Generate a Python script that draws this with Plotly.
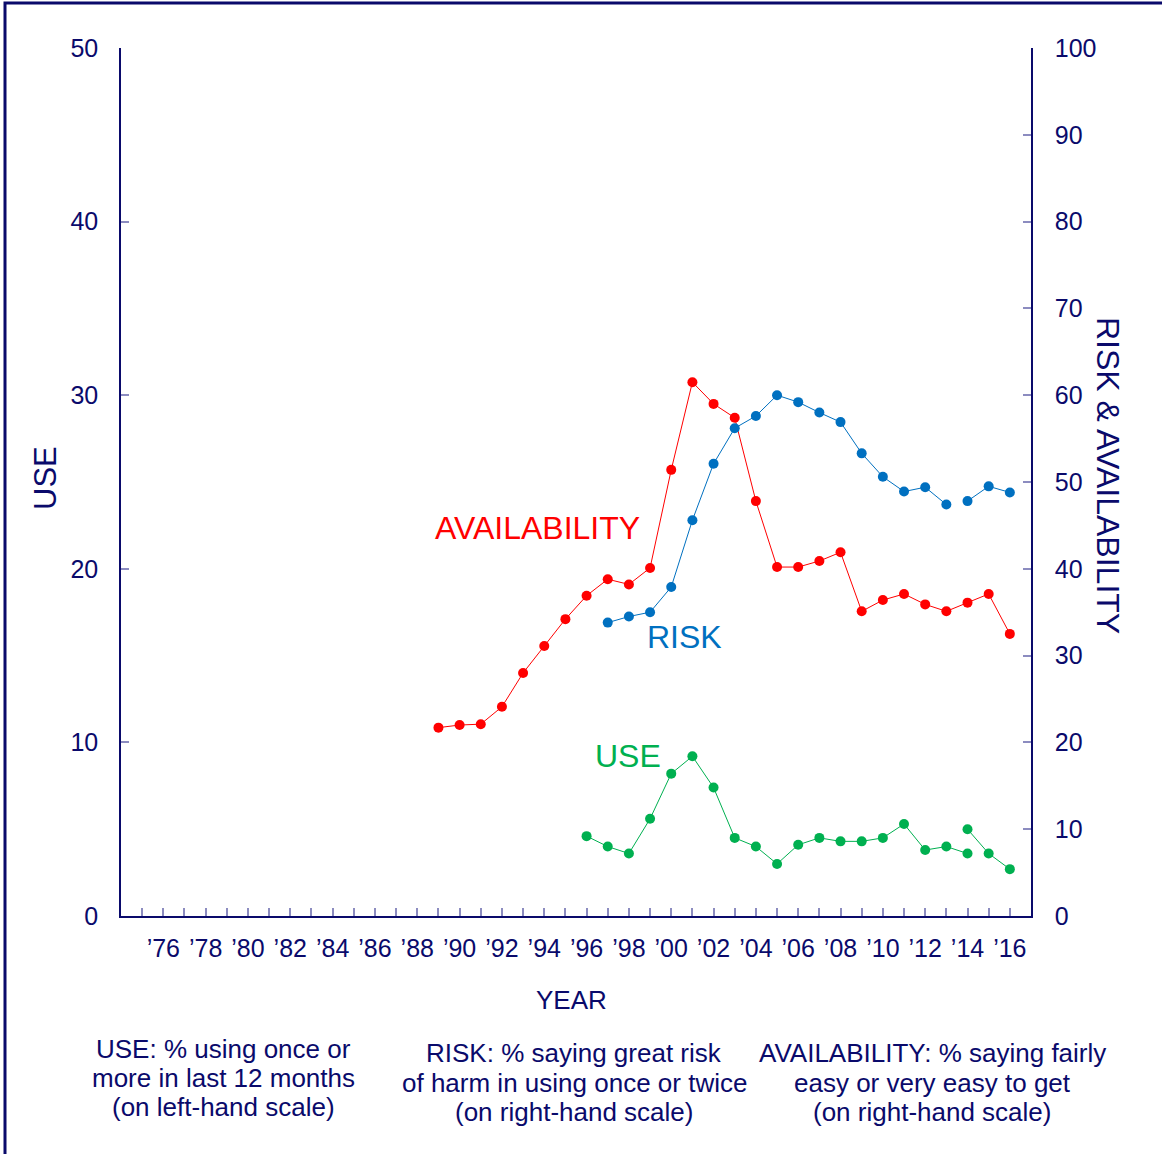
import plotly.graph_objects as go

NAVY = "#0a0a6b"

years_avail = list(range(1989, 2017))
availability = [21.7, 22.0, 22.1, 24.1, 28.0, 31.1, 34.2, 36.9, 38.8, 38.2, 40.1,
                51.4, 61.5, 59.0, 57.4, 47.8, 40.2, 40.2, 40.9, 41.9, 35.1,
                36.4, 37.1, 35.9, 35.1, 36.1, 37.1, 32.5]

years_risk_a = list(range(1997, 2014))
risk_a = [33.8, 34.5, 35.0, 37.9, 45.6, 52.1, 56.2, 57.6, 60.0, 59.2, 58.0,
          56.9, 53.3, 50.6, 48.9, 49.4, 47.4]
years_risk_b = [2014, 2015, 2016]
risk_b = [47.8, 49.5, 48.8]

years_use_a = list(range(1996, 2015))
use_a = [4.6, 4.0, 3.6, 5.6, 8.2, 9.2, 7.4, 4.5, 4.0, 3.0, 4.1, 4.5, 4.3, 4.3,
         4.5, 5.3, 3.8, 4.0, 3.6]
years_use_b = [2014, 2015, 2016]
use_b = [5.0, 3.6, 2.7]

tick_years = list(range(1975, 2017))
tick_text = [("\u2019%02d" % (y % 100)) if y % 2 == 0 else "" for y in tick_years]

RED = "#ff0000"
BLUE = "#0070c0"
GREEN = "#00b050"

fig = go.Figure()

def add(x, y, color, axis):
    fig.add_trace(go.Scatter(
        x=x, y=y, mode="lines+markers", yaxis=axis,
        line=dict(color=color, width=1),
        marker=dict(color=color, size=10),
        showlegend=False, hoverinfo="x+y"))

add(years_avail, availability, RED, "y2")
add(years_risk_a, risk_a, BLUE, "y2")
add(years_risk_b, risk_b, BLUE, "y2")
add(years_use_a, use_a, GREEN, "y")
add(years_use_b, use_b, GREEN, "y")

W, H = 1162, 1154
L, R, T, B = 121, 1031, 48, 916

def px(xp):
    return (xp - L) / (R - L)

def py(yp):
    return (B - yp) / (B - T)

font = "Liberation Sans, Arial, sans-serif"

axis_common = dict(
    ticks="inside", ticklen=8, tickcolor="#8c8cc0", tickwidth=1.5,
    showline=True, linecolor=NAVY, linewidth=1.5, showgrid=False, zeroline=False,
    tickfont=dict(size=25, color=NAVY),
)

fig.update_layout(
    width=W, height=H,
    margin=dict(l=L, r=W - R, t=T, b=H - B),
    paper_bgcolor="white", plot_bgcolor="white",
    font=dict(family=font, color=NAVY, size=24),
    xaxis=dict(range=[1974, 2017], tickmode="array", tickvals=tick_years, ticktext=tick_text,
               ticklabelstandoff=9, **axis_common),
    yaxis=dict(range=[0, 50], tickvals=[0, 10, 20, 30, 40, 50], ticklabelstandoff=16, **axis_common),
    yaxis2=dict(range=[0, 100], tickvals=list(range(0, 101, 10)), overlaying="y", side="right",
                ticklabelstandoff=17, **axis_common),
)

annos = [
    dict(text="AVAILABILITY", x=1993.7, y=44.7, xref="x", yref="y2", color=RED),
    dict(text="RISK", x=2000.65, y=32.1, xref="x", yref="y2", color=BLUE),
    dict(text="USE", x=1997.96, y=9.2, xref="x", yref="y", color=GREEN),
]
for a in annos:
    fig.add_annotation(text=a["text"], x=a["x"], y=a["y"], xref=a["xref"], yref=a["yref"],
                       showarrow=False, font=dict(size=32, color=a["color"], family=font),
                       xanchor="center", yanchor="middle")

# axis titles
fig.add_annotation(text="USE", x=px(45), y=py(478), xref="paper", yref="paper",
                   showarrow=False, textangle=-90, font=dict(size=31, color=NAVY, family=font),
                   xanchor="center", yanchor="middle")
fig.add_annotation(text="RISK &amp; AVAILABILITY", x=px(1108), y=py(475), xref="paper", yref="paper",
                   showarrow=False, textangle=90, font=dict(size=32, color=NAVY, family=font),
                   xanchor="center", yanchor="middle")
fig.add_annotation(text="YEAR", x=px(571), y=py(1000), xref="paper", yref="paper",
                   showarrow=False, font=dict(size=26, color=NAVY, family=font),
                   xanchor="center", yanchor="middle")

notes = [
    (223, [1049, 1078, 1107], ["USE: % using once or", "more in last 12 months", "(on left-hand scale)"]),
    (574, [1053, 1083, 1112], ["RISK: % saying great risk", "of harm in using once or twice", "(on right-hand scale)"]),
    (932, [1053, 1083, 1112], ["AVAILABILITY: % saying fairly", "easy or very easy to get", "(on right-hand scale)"]),
]
for cx, ys, lines in notes:
    for yy, t in zip(ys, lines):
        fig.add_annotation(text=t, x=px(cx), y=py(yy), xref="paper", yref="paper",
                           showarrow=False, font=dict(size=26, color=NAVY, family=font),
                           xanchor="center", yanchor="middle")

# outer frame
fig.add_shape(type="rect", xref="paper", yref="paper",
              x0=px(5), x1=px(1180), y0=py(1175), y1=py(3),
              line=dict(color=NAVY, width=3), fillcolor="rgba(0,0,0,0)", layer="below")

fig.write_html("out.html", config={"displayModeBar": False},
               post_script="document.body.style.margin='0px';")
